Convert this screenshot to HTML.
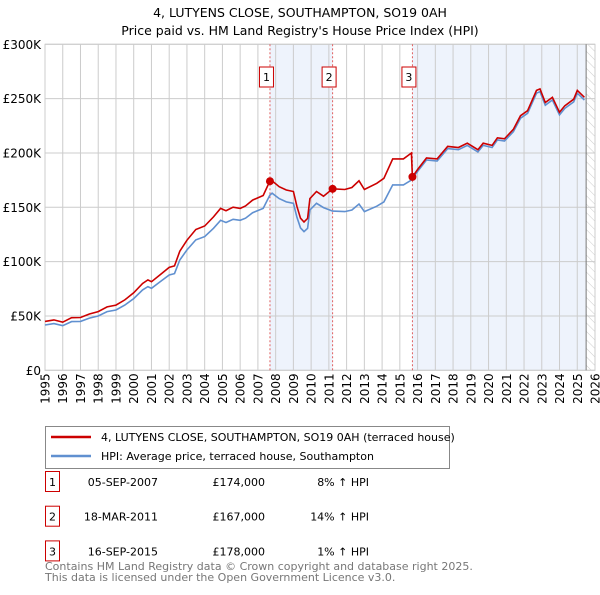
<!DOCTYPE html>
<html><head><meta charset="utf-8"><style>
body{margin:0;background:#fff;font-family:"Liberation Sans","DejaVu Sans",sans-serif;}
svg text{font-family:"DejaVu Sans","Liberation Sans",sans-serif;}
</style></head><body>
<svg id="c" width="600" height="590" xmlns="http://www.w3.org/2000/svg">
<defs><pattern id="hatch" width="6" height="6" patternUnits="userSpaceOnUse" patternTransform="rotate(-45)"><line x1="0" y1="0" x2="0" y2="6" stroke="#ccc" stroke-width="1"/></pattern></defs>
<text x="300" y="17" text-anchor="middle" font-size="12.5" fill="#000">4, LUTYENS CLOSE, SOUTHAMPTON, SO19 0AH</text>
<text x="300" y="35" text-anchor="middle" font-size="12.5" fill="#000">Price paid vs. HM Land Registry's House Price Index (HPI)</text>
<g id="plot"></g>
<g>
<rect x="45.5" y="426.5" width="404" height="42" fill="#fff" stroke="#888"/>
<line x1="51" y1="437" x2="91" y2="437" stroke="#cc0000" stroke-width="2.5"/>
<text x="101" y="441" font-size="11">4, LUTYENS CLOSE, SOUTHAMPTON, SO19 0AH (terraced house)</text>
<line x1="51" y1="456" x2="91" y2="456" stroke="#6090d0" stroke-width="2.5"/>
<text x="101" y="460" font-size="11">HPI: Average price, terraced house, Southampton</text>
</g>
<g id="table" font-size="11"></g>
<text x="45" y="570" font-size="11" fill="#777">Contains HM Land Registry data © Crown copyright and database right 2025.</text>
<text x="45" y="581" font-size="11" fill="#777">This data is licensed under the Open Government Licence v3.0.</text>
</svg>
<script>
const dates=[1995.0,1995.5,1996.0,1996.5,1997.0,1997.5,1998.0,1998.5,1999.0,1999.5,2000.0,2000.5,2000.8,2001.0,2001.5,2002.0,2002.3,2002.6,2003.0,2003.5,2004.0,2004.5,2004.9,2005.2,2005.6,2006.0,2006.3,2006.7,2007.3,2007.67,2007.8,2008.2,2008.6,2009.0,2009.2,2009.4,2009.6,2009.8,2009.93,2010.3,2010.7,2011.21,2011.9,2012.3,2012.7,2013.0,2013.7,2014.1,2014.6,2015.2,2015.65,2015.71,2016.0,2016.5,2017.1,2017.7,2018.3,2018.8,2019.4,2019.7,2020.2,2020.5,2020.9,2021.4,2021.8,2022.2,2022.7,2022.9,2023.2,2023.6,2024.0,2024.3,2024.8,2025.0,2025.4];
const hpi=[41.7,43,41,44.8,45,48,50,54,55.5,60,66,74,77,75.5,81.6,87.7,89,101.5,110.7,120,123,130.7,138,136,139,138,140,145,149,161,163,158,155,153.7,141,131,127.6,130.7,147.5,153.7,149.7,146.5,146,147.5,153,146,151,155,170.6,170.6,175,176.5,183,193.5,192.6,204,203,207,201,207,205,212,211,219.6,232,236.5,255,256.4,244,248.7,235,241,247,255,248.7];
const price=[45,46.4,44.3,48.4,48.6,51.8,54,58.3,60,64.8,71.3,79.9,83.2,81.5,88.1,94.7,96.1,109.6,119.6,129.6,132.8,141.2,149,146.9,150.1,149,151.2,156.6,160.9,174,174.4,169,165.9,164.5,150.9,140,136.5,139.8,158,164.5,160.2,167,166.4,168.2,174.4,166.4,172.1,176.7,194.5,194.5,200,178,184.8,195.4,194.5,206,205,209,203,209,207,214,213,221.8,234.3,238.9,257.6,259,246.4,251.2,237.4,243.4,249.5,257.6,251.2];
const saleDates=[2007.68,2011.21,2015.71];
const salePrices=[174,167,178];
const saleLabels=["05-SEP-2007","18-MAR-2011","16-SEP-2015"];
const salePriceText=["£174,000","£167,000","£178,000"];
const saleHpiText=["8% ↑ HPI","14% ↑ HPI","1% ↑ HPI"];
const yTicks=[0,50,100,150,200,250,300];
const yTickLabels=["£0","£50K","£100K","£150K","£200K","£250K","£300K"];
const years=[];for(let y=1995;y<=2026;y++)years.push(y);
const X0=45,X1=595,Y0=370.3,Y1=44.3,dataEnd=2025.5;
const sx=v=>X0+(v-1995)/31*(X1-X0);
const sy=v=>Y0-v/300*(Y0-Y1);
const NS="http://www.w3.org/2000/svg";
const g=document.getElementById('plot');
function mk(t,a,p){const e=document.createElementNS(NS,t);for(const k in a)e.setAttribute(k,a[k]);(p||g).appendChild(e);return e;}
let r;
r=mk('rect',{x:sx(saleDates[0]),y:Y1,width:sx(saleDates[1])-sx(saleDates[0]),height:Y0-Y1,fill:'#eef3fc'});


r=mk('rect',{x:sx(saleDates[2]),y:Y1,width:sx(dataEnd)-sx(saleDates[2]),height:Y0-Y1,fill:'#eef3fc'});


r=mk('rect',{x:sx(dataEnd),y:Y1,width:X1-sx(dataEnd),height:Y0-Y1,fill:'url(#hatch)'});


years.forEach(y=>{const l=mk('line',{x1:sx(y),x2:sx(y),y1:Y1,y2:Y0,stroke:'#ccc','stroke-width':1});


const t=mk('text',{x:0,y:0,'font-size':12,transform:`translate(${sx(y)+4.5},${Y0+3}) rotate(-90)`,'text-anchor':'end'});t.textContent=y;

});
yTicks.forEach((v,i)=>{const l=mk('line',{x1:X0,x2:X1,y1:sy(v),y2:sy(v),stroke:'#ccc','stroke-width':1});


const t=mk('text',{x:X0-4,y:sy(v)+4.5,'font-size':12,'text-anchor':'end'});t.textContent=yTickLabels[i];

});
r=mk('rect',{x:X0,y:Y1,width:X1-X0,height:Y0-Y1,fill:'none',stroke:'#ccc'});


r=mk('line',{x1:sx(dataEnd),x2:sx(dataEnd),y1:Y1,y2:Y0,stroke:'#777','stroke-width':1});


saleDates.forEach((d,i)=>{const l=mk('line',{x1:sx(d),x2:sx(d),y1:Y1,y2:Y0,stroke:'#e06060','stroke-dasharray':'2,2','stroke-width':1});


const b=mk('rect',{x:sx(d)-10.5,y:67,width:14,height:20,fill:'#fff',stroke:'#cc0000'});


const t=mk('text',{x:sx(d)-3.5,y:81,'font-size':11,'text-anchor':'middle'});t.textContent=i+1;

});
const pts=a=>a.map((v,i)=>sx(dates[i]).toFixed(1)+','+sy(v).toFixed(1)).join(' ');
r=mk('polyline',{points:pts(hpi),fill:'none',stroke:'#6090d0','stroke-width':1.6});


r=mk('polyline',{points:pts(price),fill:'none',stroke:'#cc0000','stroke-width':1.6});


saleDates.forEach((d,i)=>{const c=mk('circle',{cx:sx(d),cy:sy(salePrices[i]),r:4,fill:'#cc0000'});

});
const tb=document.getElementById('table');
saleLabels.forEach((s,i)=>{const yc=482+i*34.7;
const b=mk('rect',{x:45.5,y:yc-10.5,width:14,height:20,fill:'#fff',stroke:'#cc0000'},tb);


const cells=[[52.5,'middle',String(i+1)],[158,'end',s],[265,'end',salePriceText[i]],[369,'end',saleHpiText[i]]];
cells.forEach(c=>{const t=mk('text',{x:c[0],y:yc+4,'text-anchor':c[1],'font-size':11},tb);t.textContent=c[2];

});});
</script>
</body></html>
